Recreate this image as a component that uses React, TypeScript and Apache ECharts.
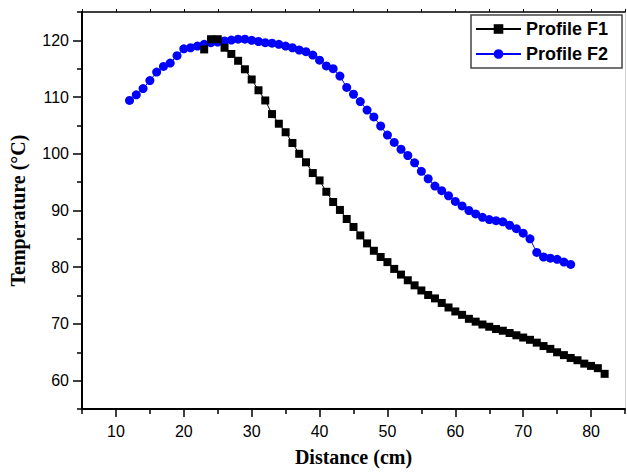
import React, { useEffect, useRef } from "react";
import * as echarts from "echarts";

const distF1 = [23, 24, 25, 26, 27, 28, 29, 30, 31, 32, 33, 34, 35, 36, 37, 38, 39, 40, 41, 42, 43, 44, 45, 46, 47, 48, 49, 50, 51, 52, 53, 54, 55, 56, 57, 58, 59, 60, 61, 62, 63, 64, 65, 66, 67, 68, 69, 70, 71, 72, 73, 74, 75, 76, 77, 78, 79, 80, 81, 82];
const tempF1 = [118.4, 120.2, 120.2, 118.7, 117.6, 116.4, 114.9, 113.1, 111.2, 109.4, 107.0, 105.3, 103.8, 101.9, 100.0, 98.5, 96.6, 95.3, 93.3, 91.5, 90.1, 88.5, 87.1, 85.6, 84.2, 82.9, 81.8, 80.9, 79.7, 78.7, 77.7, 76.8, 75.9, 75.1, 74.5, 73.7, 72.9, 72.2, 71.6, 70.9, 70.4, 69.9, 69.5, 69.1, 68.8, 68.4, 68.0, 67.6, 67.2, 66.7, 66.1, 65.6, 65.0, 64.5, 64.0, 63.6, 63.0, 62.6, 62.2, 61.2];

const distF2 = [12, 13, 14, 15, 16, 17, 18, 19, 20, 21, 22, 23, 24, 25, 26, 27, 28, 29, 30, 31, 32, 33, 34, 35, 36, 37, 38, 39, 40, 41, 42, 43, 44, 45, 46, 47, 48, 49, 50, 51, 52, 53, 54, 55, 56, 57, 58, 59, 60, 61, 62, 63, 64, 65, 66, 67, 68, 69, 70, 71, 72, 73, 74, 75, 76, 77];
const tempF2 = [109.4, 110.4, 111.5, 112.9, 114.4, 115.4, 116.0, 117.3, 118.5, 118.7, 119.0, 119.3, 119.6, 119.7, 119.9, 120.05, 120.2, 120.2, 120.0, 119.8, 119.6, 119.5, 119.3, 119.0, 118.7, 118.3, 118.0, 117.4, 116.5, 115.5, 115.0, 113.7, 111.7, 110.5, 109.2, 107.7, 106.5, 104.9, 103.3, 102.0, 100.8, 99.7, 98.4, 96.9, 95.6, 94.3, 93.5, 92.6, 91.6, 90.8, 90.0, 89.4, 88.8, 88.4, 88.2, 88.0, 87.4, 86.8, 86.0, 85.0, 82.6, 81.8, 81.6, 81.4, 80.9, 80.5];

const seriesNames = ["Profile F1", "Profile F2"];
const xMajorTicks = [10, 20, 30, 40, 50, 60, 70, 80];
const xMinorTicks = [5, 15, 25, 35, 45, 55, 65, 75, 85];
const xTopTicks = [5, 10, 15, 20, 25, 30, 35, 40, 45, 50, 55, 60, 65, 70, 75, 80, 85];
const yMajorTicks = [60, 70, 80, 90, 100, 110, 120];
const yMinorTicks = [55, 65, 75, 85, 95, 105, 115, 125];

export default function App() {
  const ref = useRef<HTMLDivElement>(null);
  useEffect(() => {
    if (!ref.current) return;
    const chart = echarts.init(ref.current, null, { renderer: "svg" });
    const sans = "Liberation Sans, Arial, sans-serif";
    const serif = "Liberation Serif, Times New Roman, serif";
    chart.setOption({
      animation: false,
      backgroundColor: "#fff",
      grid: { left: 82, right: 2, top: 12, bottom: 55.4 },
      legend: {
        left: 471,
        top: 15,
        orient: "vertical",
        data: seriesNames,
        borderColor: "#444",
        borderWidth: 1.5,
        borderRadius: 0,
        padding: [5, 14, 5, 4],
        itemWidth: 45,
        itemHeight: 12,
        itemGap: 7,
        backgroundColor: "#fff",
        textStyle: { fontFamily: sans, fontWeight: "bold", fontSize: 18, color: "#000" },
      },
      xAxis: [
        {
          type: "value",
          position: "bottom",
          min: 5,
          max: 85,
          axisLine: { lineStyle: { color: "#000", width: 2 } },
          axisTick: { customValues: xMajorTicks, length: 8, lineStyle: { color: "#000", width: 1.5 } },
          axisLabel: { customValues: xMajorTicks, fontFamily: sans, fontSize: 16, color: "#000", margin: 14 },
          splitLine: { show: false },
          name: "Distance (cm)",
          nameLocation: "middle",
          nameGap: 38,
          nameTextStyle: { fontFamily: serif, fontWeight: "bold", fontSize: 20, color: "#000" },
        },
        {
          type: "value",
          position: "bottom",
          min: 5,
          max: 85,
          axisLine: { show: false },
          axisTick: { customValues: xMinorTicks, length: 5, lineStyle: { color: "#000", width: 1.5 } },
          axisLabel: { show: false },
          splitLine: { show: false },
        },
        {
          type: "value",
          position: "top",
          min: 5,
          max: 85,
          axisLine: { lineStyle: { color: "#000", width: 1.5 } },
          axisTick: { customValues: xTopTicks, length: 3, lineStyle: { color: "#000", width: 1 } },
          axisLabel: { show: false },
          splitLine: { show: false },
        },
      ],
      yAxis: [
        {
          type: "value",
          position: "left",
          min: 55,
          max: 125,
          axisLine: { show: true, lineStyle: { color: "#000", width: 2 } },
          axisTick: { show: true, customValues: yMajorTicks, length: 9, lineStyle: { color: "#000", width: 1.5 } },
          axisLabel: { customValues: yMajorTicks, fontFamily: sans, fontSize: 16, color: "#000", margin: 13 },
          splitLine: { show: false },
          name: "Temperature (°C)",
          nameLocation: "middle",
          nameGap: 54,
          nameTextStyle: { fontFamily: serif, fontWeight: "bold", fontSize: 20, color: "#000" },
        },
        {
          type: "value",
          position: "left",
          min: 55,
          max: 125,
          axisLine: { show: false },
          axisTick: { show: true, customValues: yMinorTicks, length: 5, lineStyle: { color: "#000", width: 1.5 } },
          axisLabel: { show: false },
          splitLine: { show: false },
        },
        {
          type: "value",
          position: "right",
          min: 55,
          max: 125,
          axisLine: { show: true, lineStyle: { color: "#d0d0d0", width: 1 } },
          axisTick: { show: false },
          axisLabel: { show: false },
          splitLine: { show: false },
        },
      ],
      series: [
        {
          name: seriesNames[0],
          type: "line",
          xAxisIndex: 0,
          yAxisIndex: 0,
          data: distF1.map((d, i) => [d, tempF1[i]]),
          symbol: "rect",
          symbolSize: 8,
          lineStyle: { color: "#000", width: 1 },
          itemStyle: { color: "#000" },
          z: 3,
        },
        {
          name: seriesNames[1],
          type: "line",
          xAxisIndex: 0,
          yAxisIndex: 0,
          data: distF2.map((d, i) => [d, tempF2[i]]),
          symbol: "circle",
          symbolSize: 9,
          lineStyle: { color: "#0000ff", width: 1 },
          itemStyle: { color: "#0000ff" },
          z: 2,
        },
      ],
    });
    return () => chart.dispose();
  }, []);
  return <div ref={ref} style={{ position: "fixed", left: 0, top: 0, width: 627, height: 472 }} />;
}
